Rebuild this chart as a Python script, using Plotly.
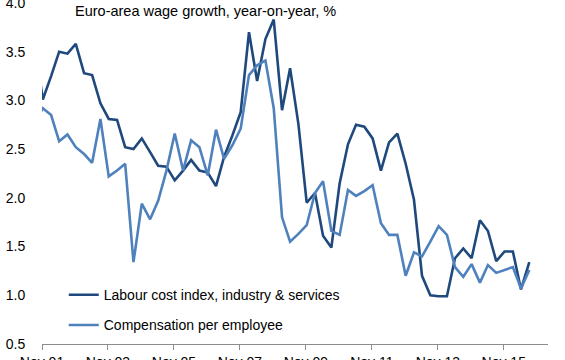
import plotly.graph_objects as go
import pandas as pd

# Quarterly observations, starting Aug 2001
dates = pd.date_range("2001-08-01", periods=61, freq="3MS") + pd.Timedelta(days=9)

labour_cost = [3.60, 3.01, 3.25, 3.50, 3.48, 3.58, 3.28, 3.26, 2.97, 2.81, 2.80,
               2.52, 2.50, 2.61, 2.47, 2.33, 2.32, 2.18, 2.28, 2.39, 2.28,
               2.26, 2.12, 2.42, 2.64, 2.88, 3.70, 3.20, 3.63, 3.83, 2.90,
               3.33, 2.76, 1.95, 2.05, 1.61, 1.49, 2.15, 2.55, 2.75, 2.73,
               2.61, 2.28, 2.57, 2.66, 2.35, 1.98, 1.20, 1.00, 0.99, 0.99,
               1.38, 1.48, 1.38, 1.77, 1.66, 1.35, 1.45, 1.45, 1.06, 1.34]

compensation = [2.76, 2.92, 2.85, 2.58, 2.65, 2.52, 2.45, 2.36, 2.81, 2.22, 2.28,
                2.35, 1.34, 1.94, 1.78, 1.97, 2.28, 2.66, 2.28, 2.59, 2.52,
                2.23, 2.70, 2.40, 2.54, 2.71, 3.26, 3.36, 3.41, 2.92, 1.80,
                1.55, 1.63, 1.72, 2.05, 2.17, 1.66, 1.62, 2.08, 2.02, 2.07,
                2.13, 1.74, 1.62, 1.62, 1.20, 1.44, 1.40, 1.55, 1.71, 1.62,
                1.29, 1.19, 1.32, 1.13, 1.31, 1.23, 1.26, 1.29, 1.07, 1.26]

series_names = ["Labour cost index, industry & services", "Compensation per employee"]
series_colors = ["#1F497D", "#4F81BD"]
title_text = "Euro-area wage growth, year-on-year, %"
y_ticks = [0.5, 1.0, 1.5, 2.0, 2.5, 3.0, 3.5, 4.0]

FONT = "Liberation Sans, Arial, sans-serif"

fig = go.Figure()
for i, (name, vals) in enumerate(zip(series_names, [labour_cost, compensation])):
    fig.add_trace(go.Scatter(
        x=dates, y=vals, mode="lines", name=name,
        line=dict(color=series_colors[i], width=2.6),
        legendgroup=f"g{i}",
    ))

fig.update_layout(
    width=565, height=360,
    margin=dict(l=42, r=17, t=3, b=16, autoexpand=False),
    paper_bgcolor="white", plot_bgcolor="white",
    font=dict(family=FONT, size=14, color="black"),
    showlegend=True,
    legend=dict(x=0.043, y=0.19, xanchor="left", yanchor="top",
                bgcolor="rgba(0,0,0,0)", font=dict(size=14, family=FONT),
                tracegroupgap=9, itemwidth=30),
    annotations=[dict(text=title_text, xref="paper", yref="paper",
                      x=0.062, y=0.978, xanchor="left", yanchor="middle",
                      showarrow=False, font=dict(size=14.5, family=FONT, color="black"))],
)
fig.update_xaxes(
    type="date", range=["2001-11-01", "2017-03-05"],
    tick0="2001-11-01", dtick="M24", tickformat="%b %y",
    showline=True, linecolor="#8C8C8C", linewidth=1,
    ticks="outside", ticklen=5, tickcolor="#8C8C8C",
    showgrid=False, zeroline=False, ticklabeloverflow="allow", automargin=False,
    tickfont=dict(size=14, family=FONT, color="black"),
)
fig.update_yaxes(
    range=[0.5, 4.0], tickvals=y_ticks, tickformat=".1f",
    showline=False, showgrid=False, zeroline=False,
    ticks="outside", ticklen=13, tickcolor="rgba(0,0,0,0)",
    ticklabeloverflow="allow", automargin=False,
    tickfont=dict(size=14, family=FONT, color="black"),
)

fig.write_html("out.html", config={"displayModeBar": False},
               post_script="document.body.style.margin='0';")
